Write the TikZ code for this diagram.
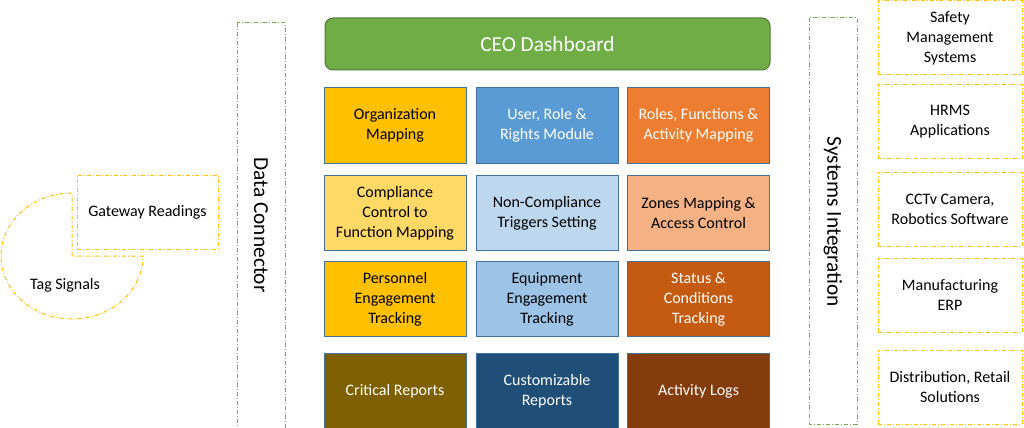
\documentclass[tikz,border=0pt]{standalone}
\usepackage{fontspec}
\setmainfont{Carlito}
\usetikzlibrary{positioning}
\definecolor{ceogreen}{HTML}{70AD47}
\definecolor{tileedge}{HTML}{41719C}
\definecolor{gold}{HTML}{FFC000}
\definecolor{paleyellow}{HTML}{FFD966}
\definecolor{midblue}{HTML}{5B9BD5}
\definecolor{paleblue}{HTML}{BDD7EE}
\definecolor{softblue}{HTML}{9DC3E6}
\definecolor{orange}{HTML}{ED7D31}
\definecolor{peach}{HTML}{F4B183}
\definecolor{rust}{HTML}{C55A11}
\definecolor{olive}{HTML}{7F6000}
\definecolor{navy}{HTML}{1F4E79}
\definecolor{brown}{HTML}{843C0C}
\tikzset{
  tile/.style={draw=tileedge,line width=0.75pt,minimum width=106.5pt,minimum height=56.25pt,
    align=center,inner sep=0pt,font=\fontsize{12}{15}\selectfont},
  dashdot/.style={line width=0.75pt,dash pattern=on 3pt off 1.5pt on 0.75pt off 1.5pt},
  extbox/.style={draw=gold,dashdot,minimum width=108pt,minimum height=55.5pt,
    align=center,inner sep=0pt,font=\fontsize{12}{15}\selectfont},
  bandbox/.style={draw=ceogreen,dashdot},
  bandtext/.style={rotate=-90,font=\fontsize{16}{19}\selectfont}
}

\begin{document}
\begin{tikzpicture}[x=0.75pt,y=-0.75pt]
\useasboundingbox (0,0) rectangle (1024,428);
% left: signals
\draw[draw=gold,dashdot] (72,256)--(72,193) arc[start angle=270,end angle=0,x radius=71,y radius=63]--cycle;
\node (tag) at (65,285) {\fontsize{12}{15}\selectfont Tag Signals};
\node[draw=gold,dashdot,fill=white,minimum width=105.75pt,minimum height=55.5pt,font=\fontsize{12}{15}\selectfont] (gateway) at (147.5,212) {Gateway Readings};
% side bands
\draw[bandbox] (237,23) rectangle (285,440);
\node[bandtext] (dataconn) at (261,225) {Data Connector};
\draw[bandbox] (809,18) rectangle (857,424);
\node[bandtext] (sysint) at (833,222) {Systems Integration};
% dashboard
\node[draw=ceogreen!70!black,fill=ceogreen,rounded corners=6pt,line width=0.75pt,minimum width=333.75pt,minimum height=39pt,
  text=white,font=\fontsize{16}{19}\selectfont] (ceo) at (547.5,44) {CEO Dashboard};
% module grid
\node[tile,fill=gold] (orgmap) at (395,125.5) {Organization\\Mapping};
\node[tile,fill=midblue,text=white] (userrole) at (547,125.5) {User, Role \&\\Rights Module};
\node[tile,fill=orange,text=white] (rolesfn) at (698.5,125.5) {Roles, Functions \&\\Activity Mapping};
\node[tile,fill=paleyellow] (compliance) at (395,213) {Compliance\\Control to\\Function Mapping};
\node[tile,fill=paleblue] (triggers) at (547,213) {Non-Compliance\\Triggers Setting};
\node[tile,fill=peach] (zones) at (698.5,213) {Zones Mapping \&\\Access Control};
\node[tile,fill=gold] (personnel) at (395,299) {Personnel\\Engagement\\Tracking};
\node[tile,fill=softblue] (equipment) at (547,299) {Equipment\\Engagement\\Tracking};
\node[tile,fill=rust,text=white] (status) at (698.5,299) {Status \&\\Conditions\\Tracking};
\node[tile,fill=olive,text=white] (critical) at (395,391) {Critical Reports};
\node[tile,fill=navy,text=white] (custom) at (547,391) {Customizable\\Reports};
\node[tile,fill=brown,text=white] (logs) at (698.5,391) {Activity Logs};
% external systems
\node[extbox] (safety) at (950,38) {Safety\\Management\\Systems};
\node[extbox] (hrms) at (950,121.5) {HRMS\\Applications};
\node[extbox] (cctv) at (950,209) {CCTv Camera,\\Robotics Software};
\node[extbox] (erp) at (950,295) {Manufacturing\\ERP};
\node[extbox] (retail) at (950,387) {Distribution, Retail\\Solutions};
\end{tikzpicture}
\end{document}
